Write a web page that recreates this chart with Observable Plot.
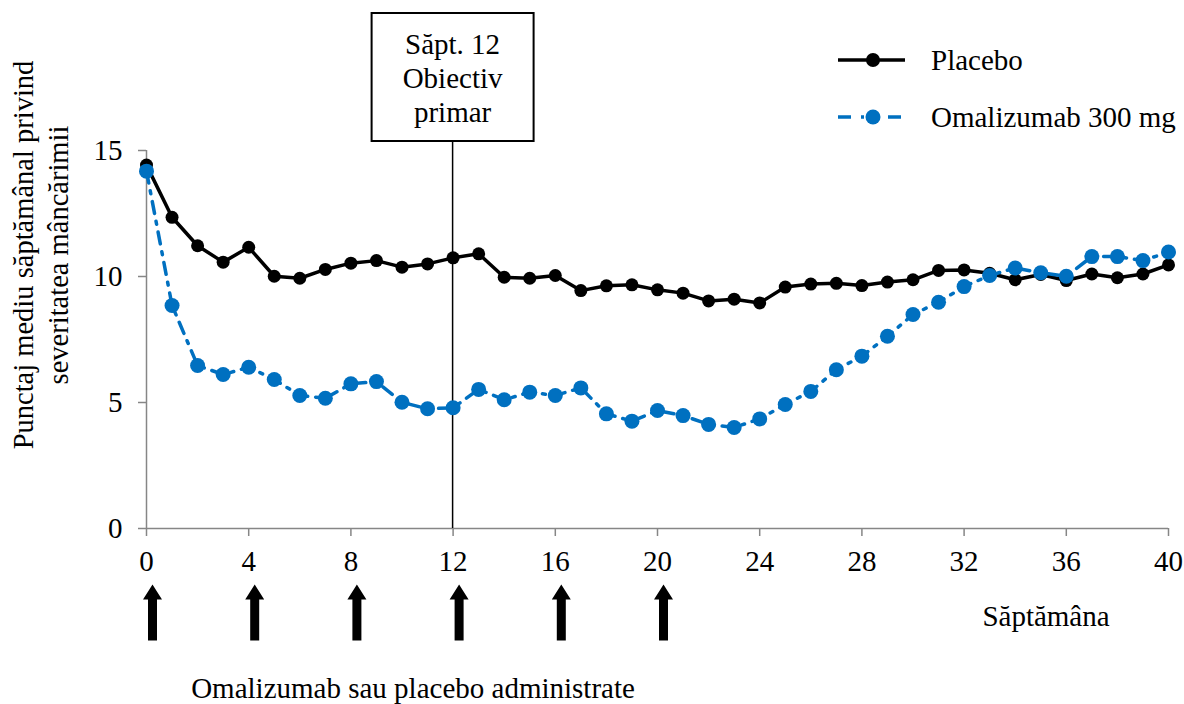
<!DOCTYPE html>
<html><head><meta charset="utf-8">
<script src="https://cdn.jsdelivr.net/npm/d3@7"></script>
<script src="https://cdn.jsdelivr.net/npm/@observablehq/plot@0.6"></script>
<style>html,body{margin:0;padding:0;background:#fff} svg{display:block}</style>
</head><body><div id="chart"></div>
<script>
// ---- data ----
const weeks = [0,1,2,3,4,5,6,7,8,9,10,11,12,13,14,15,16,17,18,19,20,21,22,23,24,25,26,27,28,29,30,31,32,33,34,35,36,37,38,39,40];
const placebo = [14.42,12.35,11.22,10.57,11.16,10.01,9.93,10.28,10.53,10.63,10.37,10.50,10.74,10.90,9.97,9.93,10.04,9.44,9.63,9.67,9.47,9.34,9.03,9.10,8.95,9.58,9.70,9.73,9.64,9.78,9.87,10.24,10.26,10.13,9.87,10.08,9.84,10.10,9.95,10.10,10.46];
const omalizumab = [14.18,8.85,6.47,6.11,6.40,5.91,5.28,5.17,5.74,5.83,5.01,4.75,4.79,5.52,5.11,5.41,5.28,5.58,4.55,4.26,4.68,4.48,4.13,4.01,4.35,4.92,5.44,6.30,6.84,7.63,8.49,8.98,9.60,10.04,10.34,10.15,10.01,10.79,10.79,10.63,10.97];
const xTicks = [0,4,8,12,16,20,24,28,32,36,40];
const yTicks = [0,5,10,15];
const doseWeeks = [0,4,8,12,16,20];
const seriesNames = ["Placebo","Omalizumab 300 mg"];
const primaryWeek = 12;
const boxLines = ["Săpt. 12","Obiectiv","primar"];
const yTitle = ["Punctaj mediu săptămânal privind","severitatea mâncărimii"];
const xTitle = "Săptămâna";
const doseTitle = "Omalizumab sau placebo administrate";

const rows = weeks.map((w,i) => ({week: w, placebo: placebo[i], oma: omalizumab[i]}));

const BLUE = "#0070C0", GRAY = "#868686", FONT = "'Liberation Serif','Times New Roman',serif";
const DASH = "12,8,3,8";
const TXT = 29;

// arrow glyph (shaft + filled head), centred on its anchor
const arrowSymbol = {
  draw(ctx) {
    ctx.moveTo(0,-28); ctx.lineTo(9.5,-13); ctx.lineTo(4.5,-13); ctx.lineTo(4.5,28);
    ctx.lineTo(-4.5,28); ctx.lineTo(-4.5,-13); ctx.lineTo(-9.5,-13); ctx.closePath();
  }
};

function annotations(index, scales, values, dims) {
  const g = d3.create("svg:g").attr("font-family", FONT).attr("fill", "black");
  const x12 = scales.x(primaryWeek);
  // box
  const boxTop = 13, boxBottom = 141, boxW = 162;
  g.append("line").attr("x1", x12).attr("x2", x12).attr("y1", scales.y(0)).attr("y2", boxBottom)
    .attr("stroke", "black").attr("stroke-width", 1.5);
  g.append("rect").attr("x", x12 - boxW/2).attr("y", boxTop).attr("width", boxW).attr("height", boxBottom - boxTop)
    .attr("fill", "white").attr("stroke", "black").attr("stroke-width", 2);
  boxLines.forEach((t,i) => g.append("text").attr("x", x12).attr("y", 54 + i*34)
    .attr("text-anchor", "middle").attr("font-size", TXT).text(t));
  // y title
  yTitle.forEach((t,i) => g.append("text")
    .attr("transform", `translate(${33 + i*35},255) rotate(-90)`)
    .attr("text-anchor", "middle").attr("font-size", 28.5).text(t));
  // x title and dose caption
  g.append("text").attr("x", 1046).attr("y", 626).attr("text-anchor", "middle").attr("font-size", TXT).text(xTitle);
  g.append("text").attr("x", 413).attr("y", 698).attr("text-anchor", "middle").attr("font-size", TXT).text(doseTitle);
  // legend
  const lx1 = 838, lx2 = 905, lm = 873, ly = [60, 117], tx = 931;
  g.append("line").attr("x1", lx1).attr("x2", lx2).attr("y1", ly[0]).attr("y2", ly[0]).attr("stroke", "black").attr("stroke-width", 3.5);
  g.append("circle").attr("cx", lm).attr("cy", ly[0]).attr("r", 7).attr("fill", "black");
  g.append("line").attr("x1", lx1).attr("x2", lx2).attr("y1", ly[1]).attr("y2", ly[1]).attr("stroke", BLUE).attr("stroke-width", 3.5)
    .attr("stroke-dasharray", "13,10,3,9,0,15,13");
  g.append("circle").attr("cx", lm).attr("cy", ly[1]).attr("r", 7.5).attr("fill", BLUE);
  seriesNames.forEach((t,i) => g.append("text").attr("x", tx).attr("y", ly[i] + 10)
    .attr("text-anchor", "start").attr("font-size", TXT).text(t));
  return g.node();
}

const chart = Plot.plot({
  width: 1184, height: 704,
  marginLeft: 146, marginRight: 16, marginTop: 150, marginBottom: 176,
  style: {fontFamily: FONT, fontSize: "29px", background: "white", color: "black"},
  x: {domain: [0, 40]},
  y: {domain: [0, 15]},
  marks: [
    Plot.axisX({ticks: xTicks, tickSize: 8, tickPadding: 14, stroke: GRAY, strokeWidth: 1.5, fontSize: 29, label: null, tickFormat: d => d}),
    Plot.axisY({ticks: yTicks, tickSize: 8, tickPadding: 16, stroke: GRAY, strokeWidth: 1.5, fontSize: 29, label: null, tickFormat: d => d}),
    Plot.ruleY([0], {stroke: GRAY, strokeWidth: 1.5}),
    Plot.ruleX([0], {stroke: GRAY, strokeWidth: 1.5}),
    annotations,
    Plot.line(rows, {x: "week", y: "placebo", stroke: "black", strokeWidth: 3.5}),
    Plot.dot(rows, {x: "week", y: "placebo", fill: "black", r: 6.5}),
    Plot.line(rows, {x: "week", y: "oma", stroke: BLUE, strokeWidth: 3.5, strokeDasharray: DASH}),
    Plot.dot(rows, {x: "week", y: "oma", fill: BLUE, r: 7.5}),
    Plot.dot(doseWeeks, {x: d => d, frameAnchor: "bottom", dy: 84, dx: 6, symbol: arrowSymbol, fill: "black", r: 10})
  ]
});
document.getElementById("chart").appendChild(chart);
</script>
</body></html>
